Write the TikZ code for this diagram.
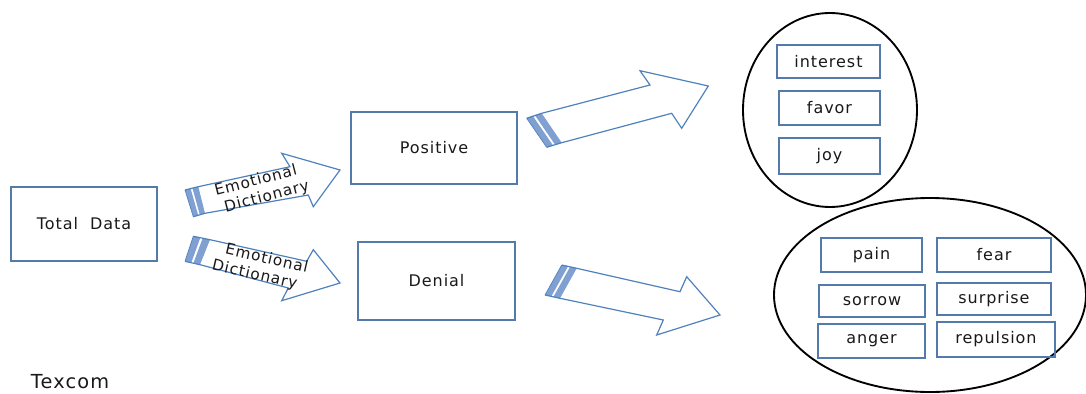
\documentclass[tikz,border=0pt]{standalone}
\usepackage{fontspec}
\setmainfont{DejaVu Sans}[LetterSpace=6]
\usetikzlibrary{shapes.geometric,calc}
\definecolor{boxblue}{RGB}{84,122,172}
\definecolor{arrblue}{RGB}{79,129,189}
\definecolor{stripeblue}{RGB}{128,160,210}
% #1 T1, #2 T2, #3 S1, #4 S2, #5 head inner top, #6 head outer top, #7 tip, #8 head outer bottom, #9 head inner bottom
\newcommand{\blockarrow}[9]{%
  \fill[stripeblue] #1 -- ($#1!0.42!#3$) -- ($#2!0.42!#4$) -- #2 -- cycle;
  \fill[stripeblue] ($#1!0.56!#3$) -- #3 -- #4 -- ($#2!0.56!#4$) -- cycle;
  \draw[arrline] #1 -- #3 -- #5 -- #6 -- #7 -- #8 -- #9 -- #4 -- #2;
  \draw[arrline, line width=0.5pt] #1 -- #2;}
\begin{document}
\begin{tikzpicture}[x=0.75pt,y=-0.75pt,
  box/.style 2 args={draw=boxblue, line width=1.1pt, inner sep=0pt,
    minimum width=#1*0.75pt, minimum height=#2*0.75pt,
    font=\fontsize{12}{14}\selectfont, text=black!90},
  arrline/.style={draw=arrblue, line width=0.9pt, line join=miter},
  oval/.style={ellipse, draw=black, line width=1.4pt, inner sep=0pt},
  dict/.style={font=\fontsize{11.5}{13.5}\selectfont, inner sep=0pt, align=left, text=black!90}]
\useasboundingbox (0,0) rectangle (1086,393);
\clip (0,0) rectangle (1086,393);

% block arrows
\blockarrow{(185,190)}{(193.3,216.7)}{(198.3,186.7)}{(205,213.3)}{(290,166.7)}{(281.7,153.3)}{(340,170)}{(313.3,206.7)}{(308.3,195)}
\blockarrow{(193.3,236.3)}{(185,261.3)}{(210,239.7)}{(200,264.7)}{(306.7,261.3)}{(313.3,249.7)}{(340,283)}{(281.7,300.7)}{(288.3,288)}
\blockarrow{(526.7,118.3)}{(546.7,147.3)}{(541.7,113.3)}{(561.7,142.7)}{(650,85)}{(640,70.7)}{(708.3,86)}{(681.7,128.3)}{(671.7,113.3)}
\blockarrow{(561.7,265)}{(545,295)}{(576.7,268.3)}{(560,298.3)}{(680,291.7)}{(686.7,276.7)}{(720,315)}{(656.7,335)}{(663.3,320)}

% arrow labels
\node[dict, rotate=14.5] (lab1) at (262,189) {Emotional\\\hspace*{4pt}Dictionary};
\node[dict, rotate=-13] (lab2) at (260,267) {\hspace*{7pt}Emotional\\Dictionary};

% main boxes
\node[box={146}{74}] (total) at (84,224) {Total\ \ Data};
\node[box={166}{72}] (pos) at (434,148) {Positive};
\node[box={157}{78}] (den) at (436.5,281) {Denial};

% ellipses
\node[oval, minimum width=174*0.75pt, minimum height=194*0.75pt] (ovpos) at (830,110) {};
\node[oval, minimum width=312*0.75pt, minimum height=194*0.75pt] (ovneg) at (930,295) {};

% emotion boxes
\node[box={103}{33}] (interest) at (828.5,61.5) {interest};
\node[box={101}{34}] (favor) at (829.5,108) {favor};
\node[box={101}{36}] (joy) at (829.5,156) {joy};
\node[box={101}{34}] (pain) at (871.5,255) {pain};
\node[box={114}{34}] (fear) at (994,255) {fear};
\node[box={106}{32}] (sorrow) at (872,301) {sorrow};
\node[box={114}{32}] (surprise) at (994,299) {surprise};
\node[box={107}{34}] (anger) at (871.5,341) {anger};
\node[box={118}{35}] (repulsion) at (996,339.5) {repulsion};

\node[font=\fontsize{14.5}{16}\selectfont, inner sep=0pt, text=black!90] (texcom) at (70,382) {Texcom};
\end{tikzpicture}
\end{document}
